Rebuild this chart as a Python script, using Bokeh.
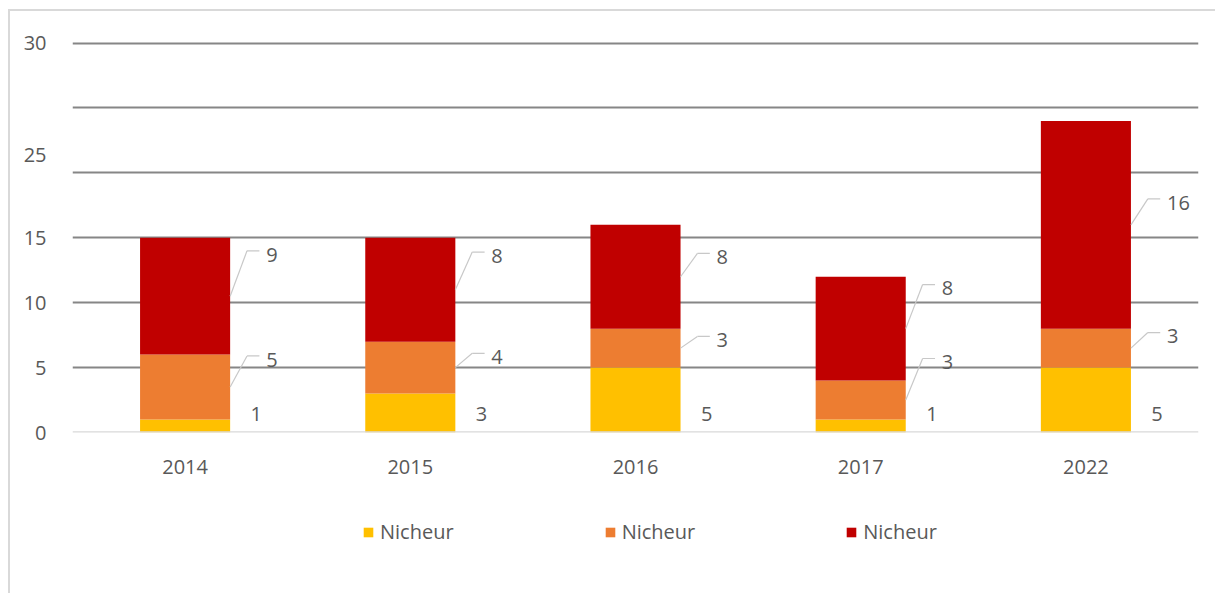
from bokeh.plotting import figure
from bokeh.layouts import column
from bokeh.models import (ColumnDataSource, FactorRange, Range1d, FixedTicker, Span,
                          Legend, LegendItem)
from bokeh.transform import dodge
from bokeh.core.properties import value
from bokeh.embed import file_html
from bokeh.resources import INLINE

# ---- data ----
years = ["2014", "2015", "2016", "2017", "2022"]
nicheur_jaune = [1, 3, 5, 1, 5]
nicheur_orange = [5, 4, 3, 3, 3]
nicheur_rouge = [9, 8, 8, 8, 16]
series_labels = ["Nicheur", "Nicheur", "Nicheur"]
y_tick_labels = ["0", "5", "10", "15", "25", "30"]

# ---- layout / style (not data) ----
y_tick_positions = [0, 5, 10, 15, 21.4, 30]
lift_rouge = [3.2, 2.6, 1.5, 3.1, 1.7]
lift_orange = [2.1, 0.8, 0.6, 2.9, 0.9]
yellow_label_y = 1.4
C_Y, C_O, C_R = "#FFC000", "#ED7D31", "#C00000"
COLORS = [C_Y, C_O, C_R]
TXT = "#595959"
FONT = "Open Sans"
FS = "20px"
BAR_W = 0.4
W = 1205

src = ColumnDataSource(dict(year=years, jaune=nicheur_jaune,
                            orange=nicheur_orange, rouge=nicheur_rouge))

p = figure(x_range=FactorRange(*years), y_range=Range1d(0, 30.2),
           width=W, height=484, output_backend="svg", toolbar_location=None,
           min_border_left=62, min_border_right=17, min_border_top=29,
           min_border_bottom=63)
p.outline_line_color = None
p.background_fill_color = "white"
p.border_fill_color = "white"

stack = ["jaune", "orange", "rouge"]
rs = p.vbar_stack(stack, x="year", width=BAR_W, color=COLORS,
                  line_color=None, source=src)

# grid
p.xgrid.grid_line_color = None
p.ygrid.ticker = FixedTicker(ticks=[5, 10, 15, 20, 25, 30])
p.ygrid.grid_line_color = "#868686"
p.ygrid.grid_line_width = 2
p.ygrid.level = "underlay"
p.add_layout(Span(location=0, dimension="width", line_color="#d9d9d9", line_width=2.5))

# axes
p.yaxis.ticker = FixedTicker(ticks=y_tick_positions)
p.yaxis.major_label_overrides = {pos: lab for pos, lab in zip(y_tick_positions, y_tick_labels)}
for ax in (p.xaxis[0], p.yaxis[0]):
    ax.axis_line_color = None
    ax.major_tick_line_color = None
    ax.minor_tick_line_color = None
    ax.major_label_text_font = FONT
    ax.major_label_text_font_size = FS
    ax.major_label_text_color = TXT
p.yaxis.major_label_standoff = 20
p.xaxis.major_label_standoff = 21

# data labels
half = BAR_W / 2
mid_r, mid_o, ly_r, ly_o = [], [], [], []
for j, o, r, lr, lo in zip(nicheur_jaune, nicheur_orange, nicheur_rouge, lift_rouge, lift_orange):
    mo = j + o / 2
    mr = j + o + r / 2
    mid_o.append(mo)
    mid_r.append(mr)
    ly_o.append(mo + lo)
    ly_r.append(mr + lr)

lab = ColumnDataSource(dict(
    year=years + years,
    mid=mid_r + mid_o,
    ly=ly_r + ly_o,
    line_y=[v + 0.3 for v in ly_r + ly_o],
    txt=[str(v) for v in nicheur_rouge + nicheur_orange],
))
rng = p.x_range
p.segment(x0=dodge("year", half, range=rng), y0="mid",
          x1=dodge("year", half + 0.075, range=rng), y1="line_y",
          source=lab, line_color="#c8c8c8", line_width=1.2)
p.segment(x0=dodge("year", half + 0.075, range=rng), y0="line_y",
          x1=dodge("year", half + 0.13, range=rng), y1="line_y",
          source=lab, line_color="#c8c8c8", line_width=1.2)
p.text(x=dodge("year", half + 0.16, range=rng), y="ly", text="txt", source=lab,
       text_font=value(FONT), text_font_size=FS, text_color=TXT,
       text_align="left", text_baseline="middle")

ylab = ColumnDataSource(dict(year=years, y=[yellow_label_y] * len(years),
                             txt=[str(v) for v in nicheur_jaune]))
p.text(x=dodge("year", half + 0.116, range=rng), y="y", text="txt", source=ylab,
       text_font=value(FONT), text_font_size=FS, text_color=TXT,
       text_align="center", text_baseline="middle")

# legend strip (separate figure below the chart; its frame aligns with the chart frame)
pl = figure(width=W, height=98, x_range=Range1d(0, 1), y_range=Range1d(0, 1),
            x_axis_type=None, y_axis_type=None, output_backend="svg",
            toolbar_location=None, min_border=0)
pl.outline_line_color = None
pl.xgrid.visible = False
pl.ygrid.visible = False
# swatch renderers kept outside the visible range; only their legend glyphs show
leg_rs = [pl.vbar(x=[-5], bottom=[-6], top=[-5], width=0.1, color=c, line_color=None)
          for c in COLORS]
legend = Legend(items=[LegendItem(label=series_labels[i], renderers=[leg_rs[i]]) for i in range(3)],
                orientation="horizontal", location=(290, 48),
                glyph_width=12, glyph_height=12, label_standoff=6, spacing=150,
                padding=0, margin=0, border_line_color=None, background_fill_alpha=0,
                label_text_font=FONT, label_text_font_size=FS, label_text_color=TXT)
pl.add_layout(legend, "center")

layout = column(p, pl, spacing=0,
                styles={"margin-left": "8px", "margin-top": "9px",
                        "border-top": "2px solid #d9d9d9", "border-left": "2px solid #d9d9d9"})

open("out.html", "w").write(file_html(layout, INLINE))
